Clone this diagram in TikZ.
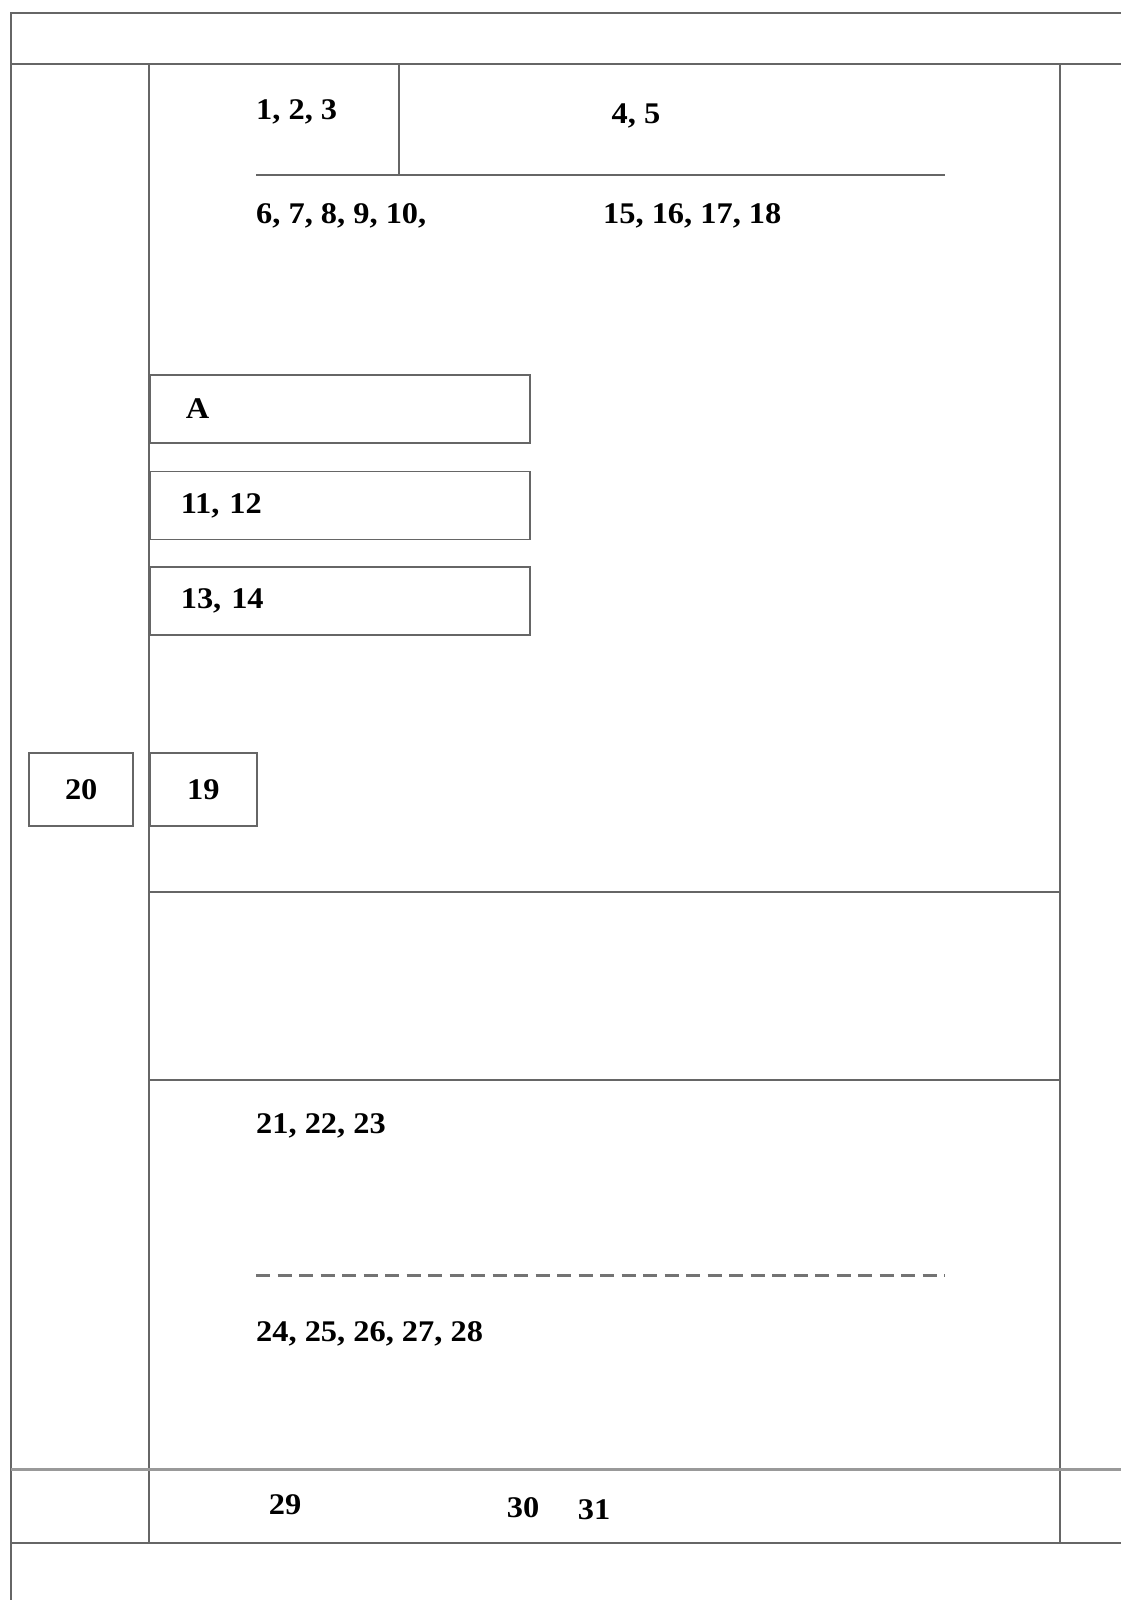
\documentclass[tikz,border=0pt]{standalone}
\usepackage{fontspec}
\setmainfont[FakeStretch=1.08]{Liberation Serif}
\usetikzlibrary{positioning}

\begin{document}
\begin{tikzpicture}[
  x=1pt, y=-1pt,
  font=\fontsize{30}{36}\selectfont\bfseries,
  rule/.style={draw=black!60, line width=1.6pt},
  softrule/.style={draw=black!40, line width=3pt},
  lbl/.style={anchor=west, inner sep=0pt, text height=0.68em, text depth=0pt},
  wide/.style={draw=black!60, line width=1.6pt, minimum width=380pt, minimum height=68pt, text width=318pt, inner xsep=31pt, align=left, anchor=north west},
  sq/.style={draw=black!60, line width=1.6pt, minimum width=104pt, minimum height=73pt, inner sep=0pt},
]
\useasboundingbox (0,0) rectangle (1121,1600);
% frame
\draw[rule] (1121,13) -- (11,13) -- (11,1600);
\draw[rule] (11,64) -- (1121,64);
\draw[rule] (149,64) -- (149,1543);
\draw[rule] (1060,64) -- (1060,1543);
\draw[rule] (149,892) -- (1060,892);
\draw[rule] (149,1080) -- (1060,1080);
\draw[softrule] (11,1469) -- (1121,1469);
\draw[rule] (11,1543) -- (1121,1543);
% head rows
\draw[rule] (399,64) -- (399,175);
\draw[rule] (256,175) -- (945,175);
\draw[black!55, line width=3pt, dash pattern=on 14pt off 7.5pt] (256,1275) -- (945,1275);
\node[lbl] (t123) at (256,116) {1, 2, 3};
\node[lbl, anchor=center] (t45) at (636,120) {4, 5};
\node[lbl] (t610) at (256,220) {6, 7, 8, 9, 10,};
\node[lbl] (t1518) at (603,220) {15, 16, 17, 18};
% boxes
\node[wide] (ba) at (149,374) {\hspace{5pt}A};
\node[wide, below=27pt of ba] (b1112) {11, 12};
\node[wide, below=26pt of b1112] (b1314) {13, 14};
\node[sq, minimum width=107pt, anchor=north west] (b19) at (149,752) {\raisebox{-4pt}{19}};
\node[sq, left=15pt of b19] (b20) {20};
% lower rows
\node[lbl] (t2123) at (256,1130) {21, 22, 23};
\node[lbl] (t2428) at (256,1338) {24, 25, 26, 27, 28};
\node[lbl, anchor=center] (t29) at (285,1511) {29};
\node[lbl, anchor=center] (t30) at (523,1514) {30};
\node[lbl, anchor=center] (t31) at (594,1516) {31};
\end{tikzpicture}
\end{document}
